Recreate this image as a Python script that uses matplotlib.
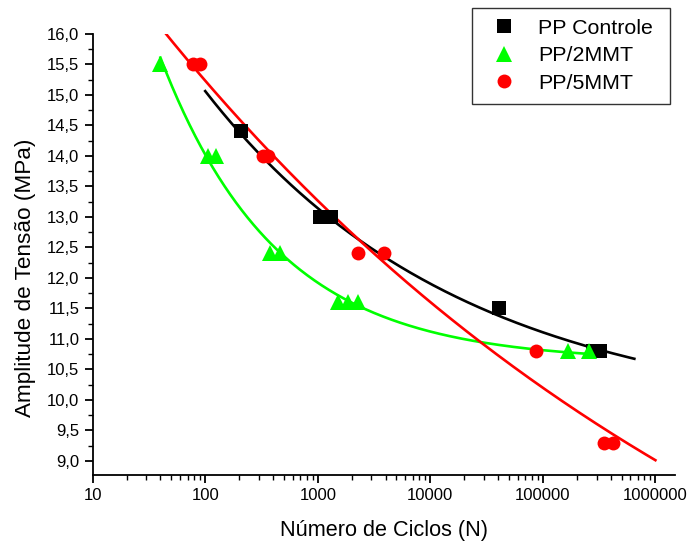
import numpy as np
import matplotlib
matplotlib.use("Agg")
import matplotlib.pyplot as plt
from matplotlib.ticker import FixedLocator, FuncFormatter, LogLocator, NullFormatter, MultipleLocator

plt.rcParams['font.family'] = ['Liberation Sans', 'DejaVu Sans']

# Fatigue data: cycles to failure (N) and stress amplitude (MPa)
ctrl_n = [207, 1040, 1300, 40500, 280000, 320000]
ctrl_s = [14.4, 13.0, 13.0, 11.5, 10.8, 10.8]

mmt2_n = [40, 105, 124, 380, 460, 1510, 1850, 2270, 166000, 259000]
mmt2_s = [15.5, 14.0, 14.0, 12.4, 12.4, 11.6, 11.6, 11.6, 10.8, 10.8]

mmt5_n = [78, 90, 329, 360, 2275, 3850, 87000, 351000, 424000]
mmt5_s = [15.5, 15.5, 14.0, 14.0, 12.4, 12.4, 10.8, 9.3, 9.3]

# Cycle range over which each fitted curve is drawn
ctrl_fit_range = [100, 650000]
mmt2_fit_range = [40, 290000]
mmt5_fit_range = [40, 1000000]

series_names = ["PP Controle", "PP/2MMT", "PP/5MMT"]
y_ticks = [9.0, 9.5, 10.0, 10.5, 11.0, 11.5, 12.0, 12.5, 13.0, 13.5,
           14.0, 14.5, 15.0, 15.5, 16.0]
x_ticks = [10, 100, 1000, 10000, 100000, 1000000]


def expdec_fit(n, s):
    """Least-squares fit of s = y0 + A*exp(-log10(n)/t)."""
    u = np.log10(np.asarray(n, float))
    s = np.asarray(s, float)
    best = None
    for t in np.linspace(0.2, 20, 4000):
        M = np.column_stack([np.ones_like(u), np.exp(-u / t)])
        coef, *_ = np.linalg.lstsq(M, s, rcond=None)
        err = np.sum((M @ coef - s) ** 2)
        if best is None or err < best[0]:
            best = (err, coef[0], coef[1], t)
    _, y0, A, t = best
    return lambda nn: y0 + A * np.exp(-np.log10(nn) / t)


fig = plt.figure(figsize=(6.89, 5.45), dpi=100)
ax = fig.add_axes([0.1345, 0.1284, 0.8455, 0.8096])

styles = [
    (ctrl_n, ctrl_s, ctrl_fit_range, "black", "s", 9.5),
    (mmt2_n, mmt2_s, mmt2_fit_range, "#00FF00", "^", 11),
    (mmt5_n, mmt5_s, mmt5_fit_range, "#FF0000", "o", 10),
]

handles = []
for (n, s, rng, color, marker, ms), name in zip(styles, series_names):
    f = expdec_fit(n, s)
    xx = np.logspace(np.log10(rng[0]), np.log10(rng[1]), 300)
    ax.plot(xx, f(xx), color=color, lw=1.9, zorder=2)
    h, = ax.plot(n, s, linestyle="none", marker=marker, color=color,
                 markersize=ms, markeredgewidth=0, zorder=3, label=name)
    handles.append(h)

ax.set_xscale("log")
ax.set_xlim(10, 1.5e6)
ax.set_ylim(8.77, 16.0)

ax.xaxis.set_major_locator(FixedLocator(x_ticks))
ax.xaxis.set_major_formatter(FuncFormatter(lambda v, p: f"{int(round(v))}"))
ax.xaxis.set_minor_locator(LogLocator(base=10, subs=np.arange(2, 10), numticks=20))
ax.xaxis.set_minor_formatter(NullFormatter())

ax.yaxis.set_major_locator(FixedLocator(y_ticks))
ax.yaxis.set_major_formatter(FuncFormatter(lambda v, p: f"{v:.1f}".replace(".", ",")))
ax.yaxis.set_minor_locator(MultipleLocator(0.25))

for side in ("top", "right"):
    ax.spines[side].set_visible(False)
for side in ("left", "bottom"):
    ax.spines[side].set_linewidth(1.3)

ax.tick_params(which="major", direction="out", length=6, width=1.3, labelsize=12)
ax.tick_params(which="minor", direction="out", length=3.5, width=1.0)

ax.set_xlabel("Número de Ciclos (N)", fontsize=15.6, labelpad=12)
ax.set_ylabel("Amplitude de Tensão (MPa)", fontsize=16.2)
ax.yaxis.set_label_coords(-0.097, 0.447)

# Legend box stretched to a fixed width in figure coordinates
leg = fig.legend(handles=handles, loc="upper left", mode="expand",
                 bbox_to_anchor=(472 / 689, 1 - 103 / 545, 198 / 689, 95 / 545),
                 fontsize=15.4, frameon=True, fancybox=False,
                 handletextpad=0.6, labelspacing=0.4,
                 borderpad=0.5, handlelength=2.0, borderaxespad=0)
leg.get_frame().set_edgecolor("black")
leg.get_frame().set_linewidth(1.0)

fig.savefig("out.png", dpi=100)
